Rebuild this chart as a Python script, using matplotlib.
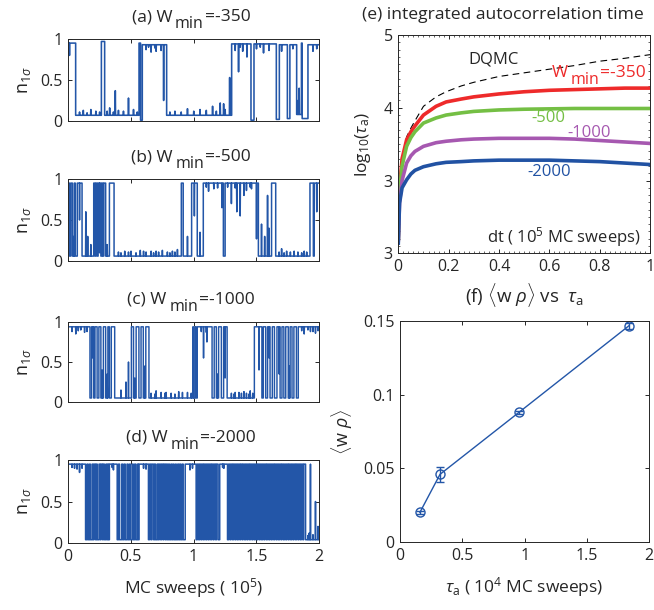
import matplotlib
matplotlib.use("Agg")
import matplotlib.pyplot as plt
from matplotlib.ticker import AutoMinorLocator

plt.rcParams['font.family'] = ['Open Sans', 'DejaVu Sans']
plt.rcParams['mathtext.fontset'] = 'custom'
plt.rcParams['mathtext.rm'] = 'Open Sans'
plt.rcParams['mathtext.it'] = 'Open Sans:italic'
plt.rcParams['mathtext.sf'] = 'Open Sans'

TXT = '#262626'
BLUE = '#2356a8'

# ---------------- time series data (x in 1e5 MC sweeps) ----------------
# (a): switch times and the level held by each segment
a_t = [0.061, 0.266, 0.292, 0.566, 0.578, 0.592, 0.786, 1.304, 1.458, 1.482,
       1.660, 1.684, 1.748, 1.768, 1.822, 1.860, 1.866, 1.912]
a_lv = [0.95, 0.07, 0.97, 0.07, 0.95, 0.01, 0.93, 0.07, 0.94, 0.01,
        0.94, 0.02, 0.93, 0.03, 0.93, 0.08, 0.95, 0.03, 0.93]
a_sp = [(0.01, 0.80), (0.375, 0.37), (0.48, 0.28), (0.76, 0.25), (0.70, 0.85),
        (1.211, 0.22), (1.238, 0.21), (1.286, 0.53), (1.357, 0.60), (1.424, 0.78),
        (1.556, 0.83), (1.84, 0.40), (1.83, 0.25), (1.95, 0.85),
        (0.09, 0.11), (0.12, 0.13), (0.15, 0.10), (0.18, 0.14), (0.22, 0.12),
        (0.25, 0.11), (0.31, 0.12), (0.33, 0.16), (0.36, 0.11), (0.40, 0.13),
        (0.44, 0.12), (0.52, 0.14), (0.55, 0.11), (0.81, 0.11), (0.85, 0.12),
        (0.90, 0.11), (0.95, 0.15), (1.00, 0.12), (1.05, 0.14), (1.10, 0.13),
        (1.15, 0.18), (1.18, 0.12), (1.25, 0.14), (0.62, 0.87), (0.66, 0.84),
        (0.74, 0.86), (1.33, 0.86), (1.39, 0.85), (1.50, 0.88), (1.60, 0.86),
        (1.70, 0.85), (1.79, 0.88), (1.98, 0.88), (0.64, 0.90), (0.69, 0.89),
        (1.37, 0.90), (1.53, 0.90)]

# (b), (c), (d): switch times, alternating between the high and low level
b_t = [0.012, 0.022, 0.035, 0.050, 0.058, 0.074, 0.112, 0.205, 0.215, 0.222,
       0.232, 0.240, 0.262, 0.270, 0.278, 0.285, 0.300, 0.330, 0.367, 0.903,
       0.918, 0.985, 1.030, 1.078, 1.238, 1.252, 1.517, 1.622, 1.655, 1.928,
       1.955, 1.962]
b_hi, b_lo = 0.95, 0.06
b_sp = [(0.045, 0.30), (0.09, 0.50), (0.14, 0.60), (0.155, 0.30), (0.18, 0.20),
        (0.25, 0.10), (0.31, 0.20), (0.574, 0.13), (0.45, 0.12), (0.66, 0.12),
        (0.75, 0.13), (0.83, 0.12), (0.95, 0.30), (1.005, 0.55), (1.05, 0.35),
        (1.118, 0.85), (1.225, 0.65), (1.30, 0.70), (1.343, 0.60), (1.37, 0.55),
        (1.40, 0.80), (1.50, 0.27), (1.54, 0.45), (1.565, 0.30), (1.588, 0.80),
        (1.60, 0.40), (1.70, 0.15), (1.80, 0.12), (1.88, 0.12), (1.98, 0.60),
        (0.40, 0.11), (0.50, 0.12), (0.62, 0.11), (0.70, 0.12), (0.79, 0.11),
        (0.87, 0.14), (1.16, 0.88), (1.42, 0.86), (1.46, 0.88), (1.74, 0.12),
        (0.42, 0.10), (0.48, 0.11), (0.54, 0.10), (0.60, 0.12), (0.68, 0.10),
        (0.72, 0.11), (0.81, 0.10), (0.85, 0.11), (1.68, 0.11), (1.72, 0.10),
        (1.77, 0.11), (1.83, 0.11), (1.86, 0.10), (1.90, 0.11), (1.10, 0.90),
        (1.19, 0.89), (1.27, 0.90), (1.33, 0.89), (1.45, 0.90)]

c_t = [0.175, 0.188, 0.205, 0.215, 0.232, 0.246, 0.262, 0.282, 0.300, 0.318,
       0.330, 0.345, 0.372, 0.505, 0.522, 0.543, 0.565, 0.582, 0.600, 0.620,
       0.645, 0.995, 1.000, 1.012, 1.020, 1.030, 1.148, 1.165, 1.182, 1.200,
       1.222, 1.240, 1.268, 1.485, 1.545, 1.556, 1.575, 1.590, 1.610, 1.628,
       1.645, 1.665, 1.690, 1.705, 1.720, 1.735, 1.755, 1.770, 1.785, 1.800,
       1.820, 1.835]
c_hi, c_lo = 0.94, 0.05
c_sp = [(0.03, 0.88), (0.06, 0.85), (0.10, 0.90), (0.13, 0.87), (0.42, 0.15),
        (0.46, 0.25), (0.48, 0.50), (0.70, 0.14), (0.78, 0.12), (0.88, 0.13),
        (0.95, 0.12), (1.078, 0.55), (1.105, 0.75), (1.33, 0.12), (1.40, 0.13),
        (1.45, 0.14), (1.52, 0.40), (1.88, 0.85), (1.93, 0.88), (1.97, 0.86),
        (0.66, 0.11), (0.74, 0.12), (0.82, 0.11), (0.91, 0.12), (1.30, 0.11),
        (1.36, 0.12), (1.42, 0.11), (1.06, 0.88), (1.10, 0.87), (0.69, 0.10),
        (0.77, 0.11), (0.85, 0.10), (0.98, 0.11), (1.32, 0.10), (1.38, 0.11),
        (1.44, 0.10), (1.47, 0.11), (0.08, 0.89), (0.15, 0.88), (1.86, 0.89),
        (1.91, 0.90), (1.95, 0.88), (1.99, 0.89), (0.196, 0.55), (0.27, 0.40),
        (0.31, 0.35), (0.53, 0.30), (0.61, 0.45), (1.19, 0.35), (1.25, 0.30),
        (1.60, 0.55), (1.68, 0.35), (1.76, 0.45)]

d_t = [0.140, 0.152, 0.160, 0.171, 0.178, 0.192, 0.199, 0.207, 0.219, 0.226,
       0.233, 0.247, 0.256, 0.263, 0.275, 0.281, 0.290, 0.302, 0.310, 0.318,
       0.324, 0.330, 0.392, 0.403, 0.411, 0.428, 0.436, 0.447, 0.456, 0.470,
       0.478, 0.489, 0.497, 0.511, 0.520, 0.531, 0.540, 0.553, 0.560, 0.566,
       0.641, 0.650, 0.661, 0.669, 0.682, 0.690, 0.698, 0.711, 0.719, 0.727,
       0.738, 0.746, 0.757, 0.764, 0.775, 0.783, 0.792, 0.801, 0.809, 0.820,
       0.828, 0.837, 0.845, 0.856, 0.863, 0.874, 0.882, 0.891, 0.899, 0.910,
       0.918, 0.934, 1.021, 1.030, 1.041, 1.049, 1.060, 1.068, 1.079, 1.086,
       1.098, 1.106, 1.117, 1.125, 1.137, 1.144, 1.156, 1.164, 1.176, 1.183,
       1.196, 1.209, 1.271, 1.280, 1.291, 1.299, 1.311, 1.318, 1.330, 1.338,
       1.349, 1.357, 1.369, 1.376, 1.388, 1.395, 1.407, 1.415, 1.426, 1.434,
       1.446, 1.453, 1.465, 1.473, 1.484, 1.492, 1.504, 1.511, 1.523, 1.531,
       1.542, 1.550, 1.561, 1.569, 1.581, 1.588, 1.600, 1.608, 1.619, 1.627,
       1.639, 1.646, 1.658, 1.666, 1.677, 1.685, 1.697, 1.704, 1.716, 1.724,
       1.735, 1.743, 1.755, 1.762, 1.774, 1.782, 1.793, 1.801, 1.813, 1.820,
       1.832, 1.840, 1.851, 1.859, 1.871, 1.878, 1.893]
d_hi, d_lo = 0.95, 0.04
d_sp = [(0.05, 0.90), (0.09, 0.85), (0.36, 0.88), (0.60, 0.90), (0.97, 0.88),
        (1.24, 0.90), (1.93, 0.95), (1.97, 0.50), (1.92, 0.12), (1.99, 0.20),
        (0.03, 0.91), (0.07, 0.89), (0.11, 0.90), (0.35, 0.91), (0.62, 0.89),
        (0.99, 0.90), (1.23, 0.91), (1.91, 0.09), (1.95, 0.10)]

# ---------------- (e) autocorrelation data ----------------
dt = [0, 0.005, 0.015, 0.033, 0.05, 0.066, 0.1, 0.15, 0.19, 0.25, 0.3, 0.4,
      0.5, 0.6, 0.7, 0.8, 0.9, 1.0]
tau_350 = [2.2, 2.9, 3.3, 3.56, 3.67, 3.75, 3.90, 4.02, 4.08, 4.12, 4.15, 4.19,
           4.22, 4.24, 4.25, 4.26, 4.27, 4.27]
tau_500 = [2.2, 2.85, 3.2, 3.47, 3.59, 3.67, 3.79, 3.86, 3.90, 3.93, 3.95, 3.97,
           3.98, 3.985, 3.99, 3.99, 3.99, 3.99]
tau_1000 = [2.18, 2.7, 3.0, 3.24, 3.34, 3.40, 3.47, 3.52, 3.54, 3.56, 3.57, 3.58,
            3.58, 3.58, 3.57, 3.55, 3.53, 3.51]
tau_2000 = [2.14, 2.69, 2.9, 3.01, 3.09, 3.14, 3.19, 3.23, 3.25, 3.26, 3.27, 3.28,
            3.28, 3.28, 3.27, 3.26, 3.24, 3.22]
tau_dqmc = [2.2, 2.9, 3.3, 3.60, 3.72, 3.82, 4.02, 4.15, 4.22, 4.30, 4.35, 4.43,
            4.48, 4.53, 4.58, 4.64, 4.68, 4.73]
e_yticks = [2, 3, 4, 5]
e_yticklabels = ['3', '3', '4', '5']

# ---------------- (f) data ----------------
f_tau = [0.160, 0.321, 0.955, 1.837]
f_wrho = [0.0203, 0.046, 0.088, 0.1466]
f_err = [0.001, 0.0052, 0.001, 0.002]


def build(t, lv, spikes):
    edges = [0.0] + list(t) + [2.0]
    xs, ys = [], []
    for i, L in enumerate(lv):
        a, b = edges[i], edges[i + 1]
        xs.append(a); ys.append(L)
        for sx, sy in sorted(spikes):
            if a < sx < b:
                xs += [sx, sx + 0.002, sx + 0.004]
                ys += [L, sy, L]
        xs.append(b); ys.append(L)
    return xs, ys


def alternate(t, hi, lo):
    return [hi if i % 2 == 0 else lo for i in range(len(t) + 1)]


TICK_FS = 11.5


def style(ax):
    for s in ax.spines.values():
        s.set_color(TXT)
        s.set_linewidth(0.7)
    ax.tick_params(direction='in', top=True, right=True, colors=TXT,
                   labelsize=TICK_FS, length=3, width=0.7, pad=4)


fig = plt.figure(figsize=(6.54, 6.10), dpi=100)
W, H = 654.0, 610.0
R = fig.canvas.get_renderer()


def add_axes(x0, x1, y0, y1):
    return fig.add_axes([x0 / W, 1 - y1 / H, (x1 - x0) / W, (y1 - y0) / H])


def pieces_text(xc, base, pieces, color):
    """Place text pieces (string, drop px, gap px, size) side by side,
    centred at pixel x xc with baseline at pixel y base (from the top)."""
    objs = []
    total = 0.0
    for s, dy, gap, fs in pieces:
        t = fig.text(0, 0, s, fontsize=fs, color=color, ha='left', va='baseline')
        w = t.get_window_extent(R).width
        objs.append((t, dy, gap, w))
        total += w + gap
    x = xc - total / 2
    for t, dy, gap, w in objs:
        x += gap
        t.set_position((x / W, 1 - (base + dy) / H))
        x += w


left_boxes = [(39, 121), (179, 261), (322, 402), (460, 543)]
tags = ['(a) W', '(b) W', '(c) W', '(d) W']
vals = ['=-350', '=-500', '=-1000', '=-2000']
traces = [build(a_t, a_lv, a_sp),
          build(b_t, alternate(b_t, b_hi, b_lo), b_sp),
          build(c_t, alternate(c_t, c_hi, c_lo), c_sp),
          build(d_t, alternate(d_t, d_hi, d_lo), d_sp)]
widths = [1.15, 1.1, 1.05, 1.1]

for k, ((y0, y1), tag, val, (xs, ys)) in enumerate(zip(left_boxes, tags, vals, traces)):
    ax = add_axes(68, 319, y0, y1)
    ax.plot(xs, ys, color=BLUE, lw=widths[k])
    ax.set_xlim(0, 2)
    ax.set_ylim(0, 1)
    ax.set_yticks([0, 0.5, 1])
    ax.set_yticklabels(['0', '0.5', '1'])
    ax.set_xticks([0, 0.5, 1, 1.5, 2])
    style(ax)
    if k < 3:
        ax.set_xticklabels([])
    else:
        ax.set_xticklabels(['0', '0.5', '1', '1.5', '2'])
        ax.set_xlabel('MC sweeps ( 10$^{5}$)', fontsize=12.5, color=TXT, labelpad=8)
    ax.set_ylabel('n$_{1\\sigma}$', fontsize=13, color=TXT, labelpad=5)
    pieces_text(191, y0 - 18, [(tag, 0, 0, 12.5), ('min', 7, 3, 11.5), (val, 0, 1, 12.5)],
                TXT)

# (e)
ax = add_axes(398.3, 650, 35, 253.3)
ax.plot(dt, tau_dqmc, color='black', lw=0.8, ls=(0, (6, 4)))
ax.plot(dt, tau_350, color='#ee2a2a', lw=2.6)
ax.plot(dt, tau_500, color='#74bf44', lw=2.6)
ax.plot(dt, tau_1000, color='#a658b0', lw=2.6)
ax.plot(dt, tau_2000, color='#2152a3', lw=2.6)
ax.set_xlim(0, 1)
ax.set_ylim(2, 5)
ax.set_xticks([0, 0.2, 0.4, 0.6, 0.8, 1])
ax.set_xticklabels(['0', '0.2', '0.4', '0.6', '0.8', '1'])
ax.set_yticks(e_yticks)
ax.set_yticklabels(e_yticklabels)
ax.yaxis.set_minor_locator(AutoMinorLocator(10))
ax.xaxis.set_minor_locator(AutoMinorLocator(10))
style(ax)
ax.tick_params(which='minor', direction='in', top=True, right=True,
               length=1.5, width=0.5, colors=TXT)
ax.set_ylabel('log$_{10}$($\\tau_{\\mathrm{a}}$)', fontsize=12.5, color=TXT, labelpad=8)
ax.text(0.38, 4.67, 'DQMC', fontsize=12, color=TXT, ha='center', va='center')
pieces_text(599, 77, [('W', 0, 0, 12.5), ('min', 7, 2, 11.5), ('=-350', 0, 1, 12.5)],
            '#ee2a2a')
ax.text(0.595, 3.86, '-500', fontsize=12, color='#74bf44', ha='center', va='center')
ax.text(0.76, 3.65, '-1000', fontsize=12, color='#a658b0', ha='center', va='center')
ax.text(0.60, 3.12, '-2000', fontsize=12, color='#2152a3', ha='center', va='center')
ax.text(0.965, 2.23, 'dt ( 10$^{5}$ MC sweeps)', fontsize=12, color=TXT,
        ha='right', va='center')
fig.text(503 / W, 1 - 15 / H, '(e) integrated autocorrelation time', fontsize=12.6,
         color=TXT, ha='center', va='center')

# (f)
ax = add_axes(400, 649.3, 320.7, 542.3)
ax.errorbar(f_tau, f_wrho, yerr=f_err, color=BLUE, lw=1.0, marker='o', ms=6.5,
            mfc='none', mec=BLUE, mew=1.0, capsize=3, elinewidth=1.0)
ax.set_xlim(0, 2)
ax.set_ylim(0, 0.15)
ax.set_xticks([0, 0.5, 1, 1.5, 2])
ax.set_xticklabels(['0', '0.5', '1', '1.5', '2'])
ax.set_yticks([0, 0.05, 0.1, 0.15])
ax.set_yticklabels(['0', '0.05', '0.1', '0.15'])
style(ax)
ax.set_ylabel('$\\langle$w $\\rho\\rangle$', fontsize=13, color=TXT, labelpad=6)
ax.set_xlabel('$\\tau_{\\mathrm{a}}$ ( 10$^{4}$ MC sweeps)', fontsize=12.5, color=TXT,
              labelpad=8)
ax.set_title('(f) $\\langle$w $\\rho\\rangle$ vs  $\\tau_{\\mathrm{a}}$', fontsize=13.5,
             color=TXT, pad=13)

fig.savefig('out.png', dpi=100)
